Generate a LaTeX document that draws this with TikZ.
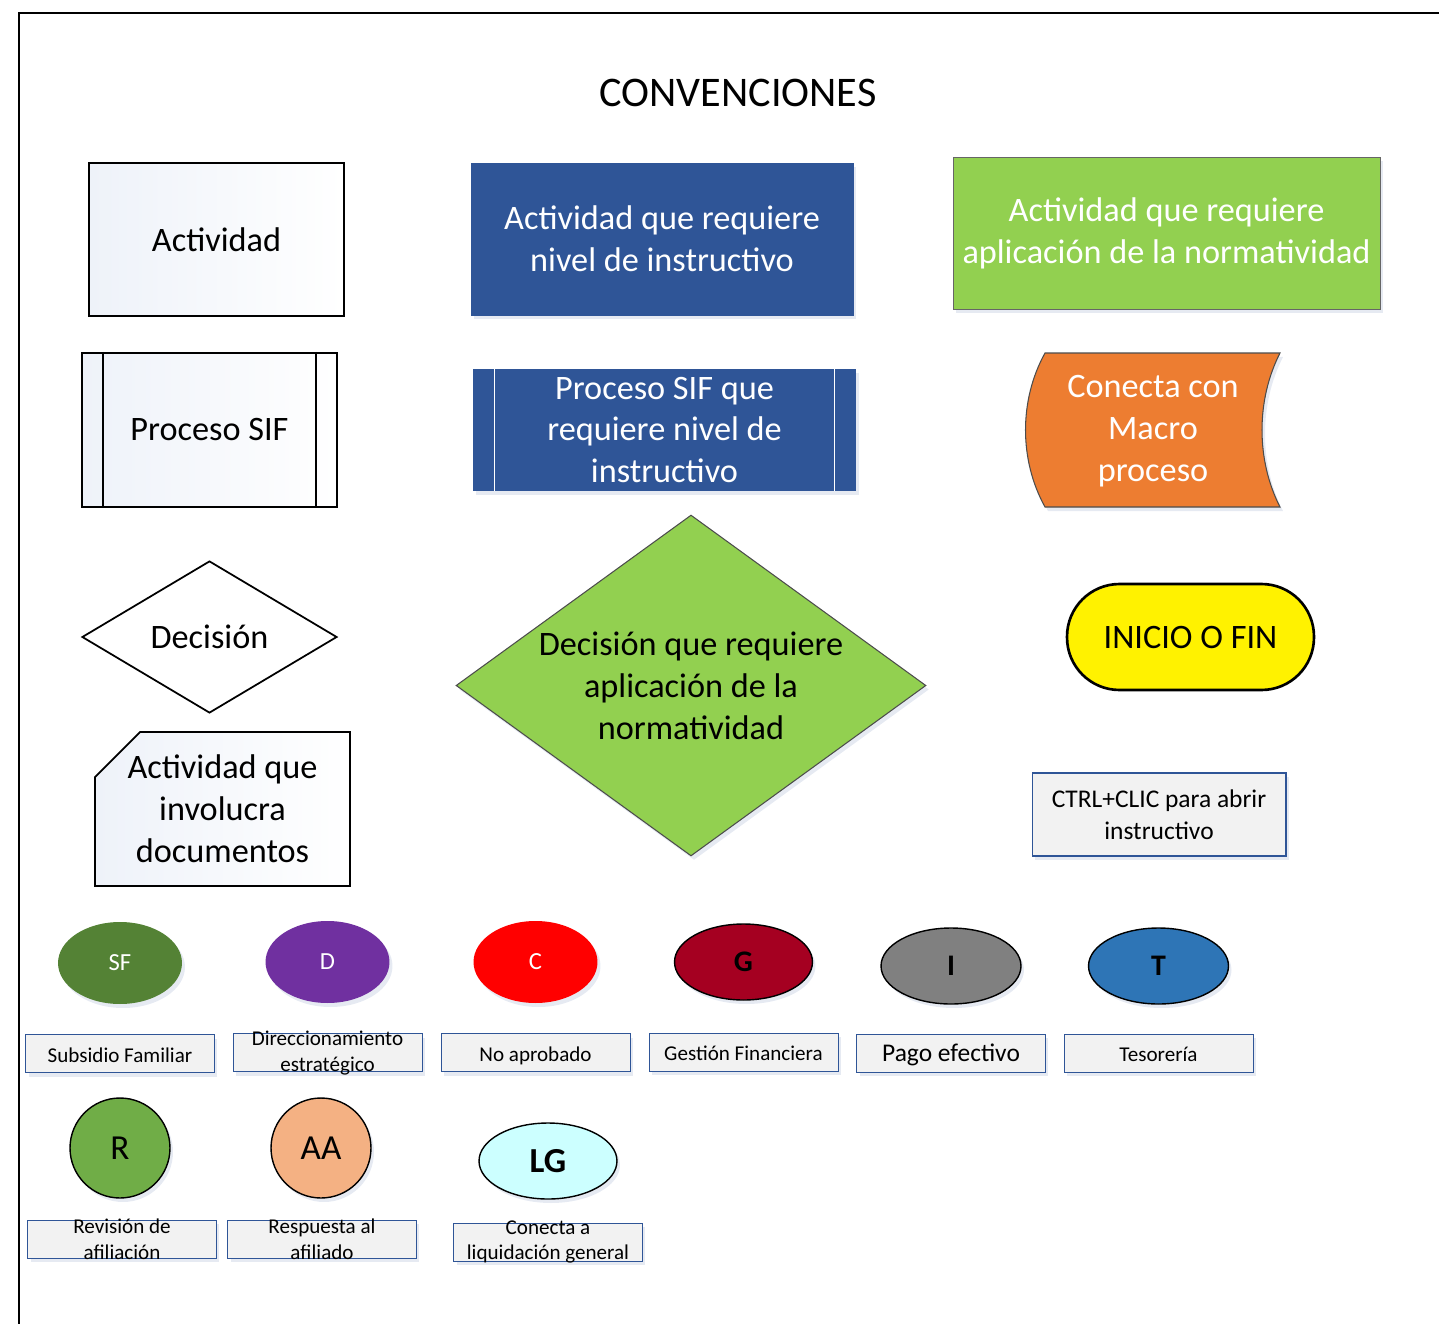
\documentclass[tikz,border=0pt]{standalone}
\usepackage{fontspec}
\setmainfont{Carlito}
\usetikzlibrary{positioning,calc,shapes.geometric,shadows}
\definecolor{azulact}{HTML}{2F5597}
\definecolor{verdeact}{HTML}{92D050}
\definecolor{naranja}{HTML}{ED7D31}
\definecolor{verdesf}{HTML}{548235}
\definecolor{morado}{HTML}{7030A0}
\definecolor{vinotinto}{HTML}{A50021}
\definecolor{grisi}{HTML}{808080}
\definecolor{azult}{HTML}{2E75B6}
\definecolor{verder}{HTML}{70AD47}
\definecolor{salmon}{HTML}{F4B183}
\definecolor{celeste}{HTML}{CCFFFF}
\definecolor{grisetq}{HTML}{F2F2F2}
\definecolor{palido}{HTML}{EEF2F9}

\begin{document}
\begin{tikzpicture}[x=0.02cm,y=-0.02cm,
    big/.style={font=\fontsize{19.5}{23.8}\selectfont,align=center,inner sep=0pt},
    claro/.style={draw,line width=1pt,left color=palido,right color=white},
    sombra/.style={drop shadow={shadow xshift=0.6mm,shadow yshift=-0.8mm,fill=azulact!40,opacity=0.3}},
    etq/.style={draw=azulact,line width=0.5pt,fill=grisetq,minimum width=3.78cm,minimum height=0.76cm,inner sep=0pt,text height=12pt,text depth=2pt,font=\fontsize{12}{14.6}\selectfont,sombra},
    lbl/.style={font=\fontsize{12}{14.6}\selectfont,align=center,inner sep=0pt},
    marca/.style={ellipse,inner sep=0pt,sombra}]
  \useasboundingbox (0,0) rectangle (1439,1324);
  % Marco
  \draw[line width=1.2pt] (19,1324) -- (19,13) -- (1439,13);
  \node[font=\fontsize{24}{29}\selectfont] (tit) at (738,93) {CONVENCIONES};
  % Actividades
  \node[big,claro,minimum width=5.1cm,minimum height=3.06cm] (act) at (216.5,239.5) {Actividad};
  \node[big,sombra,draw=azulact,fill=azulact,text=white,minimum width=7.64cm,minimum height=3.04cm] (aci) at (662,239) {Actividad que requiere\\nivel de instructivo};
  \node[big,sombra,draw=black!60,fill=verdeact,text=white,minimum width=8.54cm,minimum height=3.04cm] (acn) at (1166.5,233) {Actividad que requiere\\aplicación de la normatividad};
  % Procesos
  \node[big,claro,line width=1.2pt,minimum width=5.1cm,minimum height=3.08cm] (psif) at (209.5,430) {Proceso SIF};
  \draw[line width=1.2pt] ($(psif.north west)+(22,0)$) -- ($(psif.south west)+(22,0)$);
  \draw[line width=1.2pt] ($(psif.north east)+(-22,0)$) -- ($(psif.south east)+(-22,0)$);
  \node[big,sombra,fill=azulact,text=white,minimum width=7.66cm,minimum height=2.44cm] (psi) at (664.5,430) {Proceso SIF que\\requiere nivel de\\instructivo};
  \draw[white,line width=0.8pt] ($(psi.north west)+(22,0)$) -- ($(psi.south west)+(22,0)$);
  \draw[white,line width=0.8pt] ($(psi.north east)+(-22,0)$) -- ($(psi.south east)+(-22,0)$);
  \draw[sombra,draw=black!70,line width=0.6pt,fill=naranja] (1045,353) -- (1280,353) .. controls (1256,400) and (1256,460) .. (1280,507) -- (1045,507) .. controls (1019,460) and (1019,400) .. (1045,353) -- cycle;
  \node[big,text=white] (mac) at (1153,431) {Conecta con\\Macro\\proceso};
  % Decisiones
  \node[big,diamond,draw,line width=1pt,fill=white,minimum width=5.1cm,minimum height=3.04cm] (dec) at (209.5,637) {Decisión};
  \node[diamond,sombra,draw=black!70,line width=0.6pt,fill=verdeact,minimum width=9.4cm,minimum height=6.82cm,inner sep=0pt] (dcn) at (691,685.5) {};
  \node[big] (dcnt) at (691,686) {Decisión que requiere\\aplicación de la\\normatividad};
  \node[big,draw,line width=1.5pt,fill=yellow,rounded corners=1.05cm,minimum width=4.94cm,minimum height=2.12cm] (ini) at (1190.5,637) {INICIO O FIN};
  % Documento
  \draw[claro] (95,886) -- (95,777) -- (140,732) -- (350,732) -- (350,886) -- cycle;
  \node[big] (doc) at (222.5,809) {Actividad que\\involucra\\documentos};
  \node[sombra,draw=azulact,line width=0.6pt,fill=grisetq,minimum width=5.08cm,minimum height=1.66cm,font=\fontsize{14.5}{18}\selectfont,align=center] (ctrl) at (1159,814.5) {CTRL+CLIC para abrir\\instructivo};
  % Marcas fila uno
  \node[marca,fill=verdesf,text=white,minimum width=2.48cm,minimum height=1.64cm,font=\fontsize{14}{17}\selectfont] (sf) at (120,963) {SF};
  \node[marca,fill=morado,text=white,minimum width=2.48cm,minimum height=1.64cm,font=\fontsize{14}{17}\selectfont] (d) at (327.5,962) {D};
  \node[marca,fill=red,text=white,minimum width=2.48cm,minimum height=1.64cm,font=\fontsize{14}{17}\selectfont] (c) at (535.5,962) {C};
  \node[marca,draw,line width=0.8pt,fill=vinotinto,minimum width=2.76cm,minimum height=1.52cm,font=\bfseries\fontsize{17}{20}\selectfont] (g) at (743.5,962) {G};
  \node[marca,draw,line width=0.8pt,fill=grisi,minimum width=2.8cm,minimum height=1.52cm,font=\bfseries\fontsize{17}{20}\selectfont] (i) at (951,966) {I};
  \node[marca,draw,line width=0.8pt,fill=azult,minimum width=2.8cm,minimum height=1.52cm,font=\bfseries\fontsize{17}{20}\selectfont] (t) at (1158.5,966) {T};
  \node[etq,below=0.6cm of sf] (lsf) {Subsidio Familiar};
  \node[etq,below=0.6cm of d,label={[lbl]center:Direccionamiento\\estratégico}] (ld) {};
  \node[etq,below=0.6cm of c] (lc) {No aprobado};
  \node[etq,below=0.64cm of g] (lg1) {Gestión Financiera};
  \node[etq,below=0.58cm of i,font=\fontsize{14.5}{17}\selectfont] (li) {Pago efectivo};
  \node[etq,below=0.58cm of t] (lt) {Tesorería};
  % Marcas fila dos
  \node[marca,draw,line width=0.8pt,fill=verder,minimum width=2cm,minimum height=2cm,font=\fontsize{20}{24}\selectfont] (r) at (120,1148) {R};
  \node[marca,draw,line width=0.8pt,fill=salmon,minimum width=2cm,minimum height=2cm,font=\fontsize{20}{24}\selectfont] (aa) at (321,1148) {AA};
  \node[marca,draw,line width=0.8pt,fill=celeste,minimum width=2.76cm,minimum height=1.52cm,font=\bfseries\fontsize{20}{24}\selectfont] (lg) at (548,1161) {LG};
  \node[etq,below=0.42cm of r,xshift=0.04cm,label={[lbl]center:Revisión de\\afiliación}] (lr) {};
  \node[etq,below=0.42cm of aa,xshift=0.02cm,label={[lbl]center:Respuesta al\\afiliado}] (laa) {};
  \node[etq,below=0.46cm of lg,label={[lbl]center:Conecta a\\liquidación general}] (llg) {};
\end{tikzpicture}
\end{document}
